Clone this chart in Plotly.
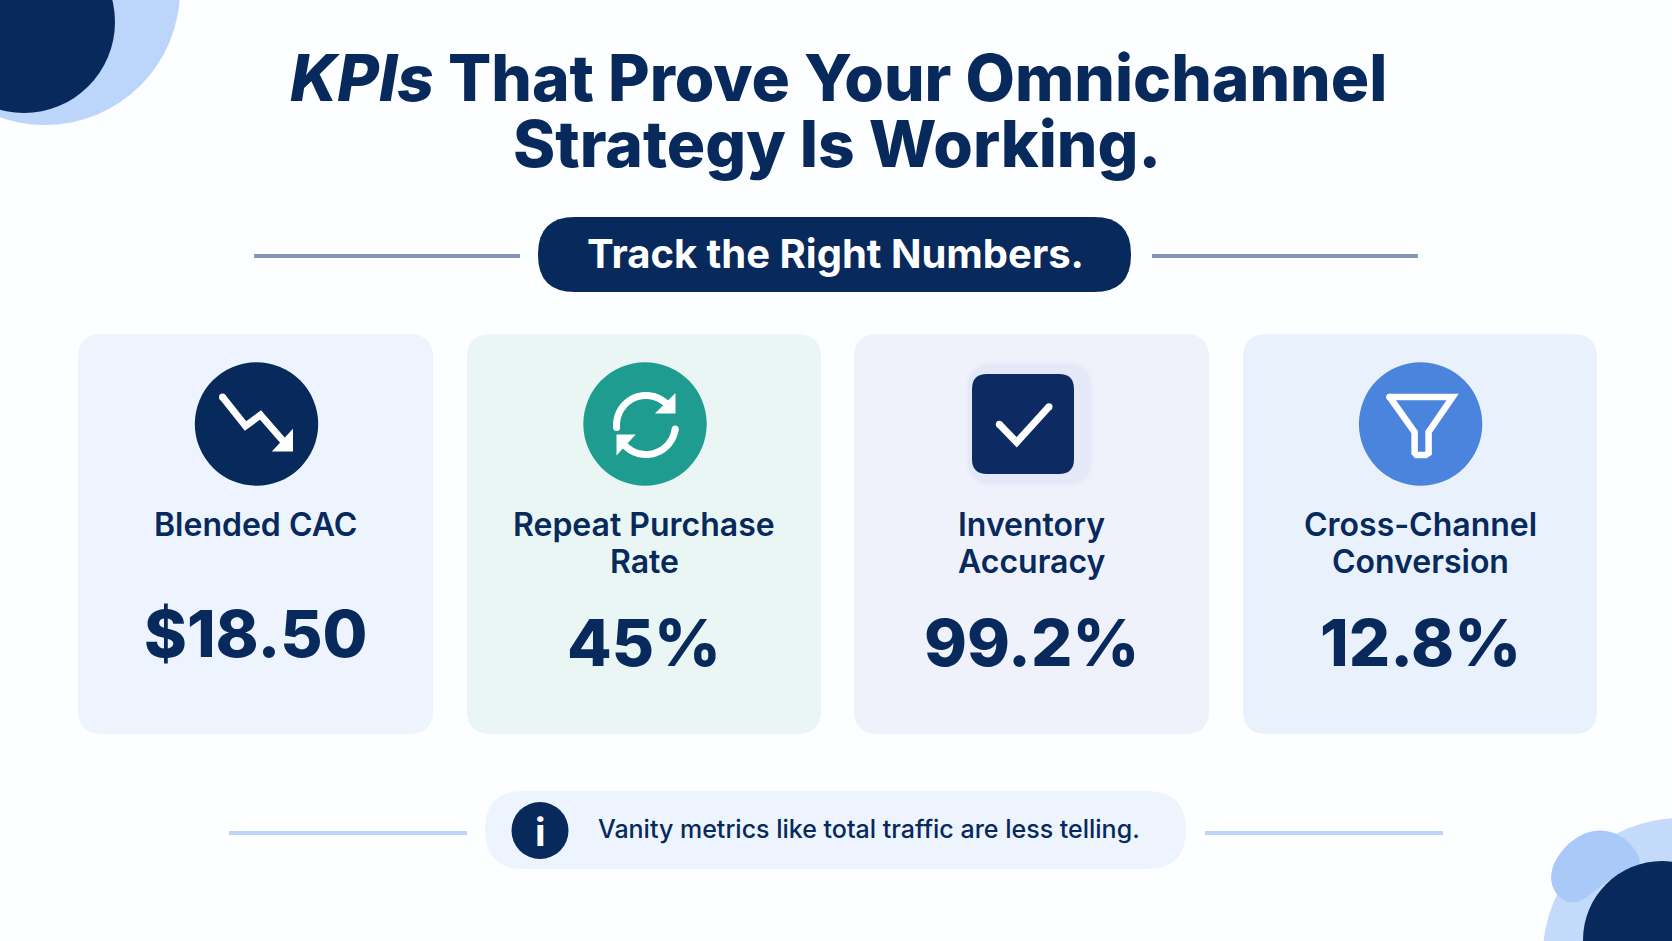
import numpy as np
import plotly.graph_objects as go

# ============================================================================
# Content
# ============================================================================

title_lines = ["<i>KPIs</i> That Prove Your Omnichannel", "Strategy Is Working."]
subtitle = "Track the Right Numbers."
card_labels = [["Blended CAC"], ["Repeat Purchase", "Rate"], ["Inventory", "Accuracy"], ["Cross-Channel", "Conversion"]]
card_values = ["$18.50", "45%", "99.2%", "12.8%"]
note_text = "Vanity metrics like total traffic are less telling."

# ============================================================================
# Palette and layout constants (pixels of the 1672x941 canvas)
# ============================================================================

WIDTH, HEIGHT = 1672, 941
FONT = "Inter"
NAVY = "#07295C"
PAPER = "#FDFEFF"
card_fills = ["#EDF4FE", "#E9F6F4", "#EFF2FB", "#E9F1FC"]
card_lefts = [78, 467, 854, 1243]
card_rights = [433, 821, 1209, 1597]
value_baselines = [657, 665.5, 665.5, 665.5]

shapes = []
annotations = []


# ============================================================================
# Function Definitions
# ============================================================================


def add_text(text, x, baseline, size, color=NAVY, weight=700):
    # Annotations anchor on their box, the middle sits about 0.36 em above the baseline
    annotations.append(dict(
        text=text, x=x, y=baseline - 0.36 * size, xref="x", yref="y",
        showarrow=False, xanchor="center", yanchor="middle", borderpad=0,
        font=dict(family=FONT, size=size, color=color, weight=weight)
    ))


def add_circle(cx, cy, r, color):
    shapes.append(dict(type="circle", x0=cx - r, x1=cx + r, y0=cy - r, y1=cy + r,
                       fillcolor=color, line=dict(width=0), xref="x", yref="y"))


def add_round_rect(x0, y0, x1, y1, r, color):
    path = (f"M {x0 + r} {y0} L {x1 - r} {y0} Q {x1} {y0} {x1} {y0 + r} "
            f"L {x1} {y1 - r} Q {x1} {y1} {x1 - r} {y1} "
            f"L {x0 + r} {y1} Q {x0} {y1} {x0} {y1 - r} "
            f"L {x0} {y0 + r} Q {x0} {y0} {x0 + r} {y0} Z")
    shapes.append(dict(type="path", path=path, fillcolor=color, line=dict(width=0),
                       xref="x", yref="y"))


def add_rule(x0, x1, y, color, width=4):
    shapes.append(dict(type="line", x0=x0, x1=x1, y0=y, y1=y, xref="x", yref="y",
                       line=dict(color=color, width=width)))


def add_stroke(points, width, color="white"):
    # Open white icon stroke, with round dots for the line caps
    path = "M " + " L ".join(f"{x:.1f} {y:.1f}" for x, y in points)
    shapes.append(dict(type="path", path=path, line=dict(color=color, width=width),
                       fillcolor="rgba(0,0,0,0)", xref="x", yref="y"))
    for x, y in (points[0], points[-1]):
        add_circle(x, y, width / 2, color)


def add_wedge(points, color="white"):
    # Small filled arrow head
    path = "M " + " L ".join(f"{x:.1f} {y:.1f}" for x, y in points) + " Z"
    shapes.append(dict(type="path", path=path, fillcolor=color, line=dict(color=color, width=5),
                       xref="x", yref="y"))


def add_blob(points, color):
    # Smooth closed outline, the points act as quadratic control points
    mids = [((points[i][0] + points[(i + 1) % len(points)][0]) / 2,
             (points[i][1] + points[(i + 1) % len(points)][1]) / 2) for i in range(len(points))]
    path = f"M {mids[-1][0]:.1f} {mids[-1][1]:.1f} "
    for p, m in zip(points, mids):
        path += f"Q {p[0]:.1f} {p[1]:.1f} {m[0]:.1f} {m[1]:.1f} "
    shapes.append(dict(type="path", path=path + "Z", fillcolor=color, line=dict(width=0),
                       xref="x", yref="y"))


def arc_points(cx, cy, r, start, end, n=40):
    angles = np.radians(np.linspace(start, end, n))
    return [(cx + r * np.cos(a), cy + r * np.sin(a)) for a in angles]


def shifted(cx, cy, offsets):
    return [(cx + dx, cy + dy) for dx, dy in offsets]


# ============================================================================
# Background decoration
# ============================================================================

add_circle(45, -10, 135, "#BCD5FA")
add_circle(24, 22, 91, NAVY)

add_circle(1680, 955, 137, "#C4DAFA")
add_blob(shifted(1500, 790, [(x / 3, y / 3) for x, y in [
    (148, 270), (165, 205), (225, 140), (300, 115), (375, 140), (428, 210),
    (400, 245), (330, 265), (265, 320), (225, 342), (175, 325)]]), "#A9CAF8")
add_circle(1662, 940, 79, NAVY)

# ============================================================================
# Title and subtitle pill
# ============================================================================

add_text(title_lines[0], 838.5, 101, 64, weight=800)
add_text(title_lines[1], 836.5, 166.5, 64, weight=800)

add_rule(254, 520, 256, "#8497B6")
add_rule(1152, 1418, 256, "#8497B6")
add_round_rect(538, 217, 1131, 292, 37, NAVY)
add_text(subtitle, 835, 268, 40, color="white", weight=700)

# ============================================================================
# KPI cards
# ============================================================================

for i in range(4):
    add_round_rect(card_lefts[i], 334, card_rights[i], 734, 24, card_fills[i])
    center = (card_lefts[i] + card_rights[i]) / 2
    for j, line in enumerate(card_labels[i]):
        add_text(line, center, 536 + 37 * j, 32, weight=600)
    add_text(card_values[i], center, value_baselines[i], 65, weight=800)

# Falling arrow icon
add_circle(256.5, 424, 61.7, NAVY)
add_stroke(shifted(256.5, 424, [(-34, -27), (-11, 2), (4, -9), (31, 22)]), 7)
add_wedge(shifted(256.5, 424, [(34, 11), (34, 25), (21, 25)]))

# Repeat icon
add_circle(645, 424, 61.7, "#1F9C90")
add_stroke(arc_points(646, 425, 29.5, 175, 323), 7)
add_stroke(arc_points(646, 425, 29.5, 8, 140), 7)
add_wedge(shifted(645, 424, [(28, -25), (28, -13), (16, -13)]))
add_wedge(shifted(645, 424, [(-26, 25), (-26, 13), (-15, 13)]))

# Check icon
add_round_rect(966, 361, 1094, 487, 26, "#ECEFF9")
add_round_rect(968, 364, 1091, 484, 24, "#E5E8F6")
add_round_rect(972, 374, 1074, 474, 15, "#0E2A63")
add_stroke([(999.3, 424.3), (1016.7, 442.3), (1049, 406.7)], 7)

# Funnel icon
add_circle(1420.6, 424, 61.7, "#4A84DC")
funnel = shifted(1420.6, 424, [(-31, -27), (32, -27), (8, 8), (8, 29), (5, 31), (-4, 31), (-6, 29), (-6, 8), (-31, -27)])
add_stroke(funnel, 6.5)

# ============================================================================
# Footnote
# ============================================================================

add_rule(229, 467, 833, "#BCD5F8")
add_rule(1205, 1443, 833, "#BCD5F8")
add_round_rect(485, 791, 1186, 869, 39, "#EDF4FE")
add_circle(540, 830.5, 28.5, NAVY)
add_text("i", 540.5, 846, 39, color="white", weight=700)
add_text(note_text, 869, 838, 25, weight=500)

# ============================================================================
# Figure
# ============================================================================

fig = go.Figure()
fig.update_layout(
    width=WIDTH,
    height=HEIGHT,
    margin=dict(l=0, r=0, t=0, b=0),
    paper_bgcolor=PAPER,
    plot_bgcolor=PAPER,
    showlegend=False,
    xaxis=dict(range=[0, WIDTH], visible=False, fixedrange=True),
    yaxis=dict(range=[HEIGHT, 0], visible=False, fixedrange=True),
    shapes=shapes,
    annotations=annotations,
)

fig.write_html("out.html", config=dict(displayModeBar=False),
               post_script="document.body.style.margin='0';document.body.style.overflow='hidden';")
